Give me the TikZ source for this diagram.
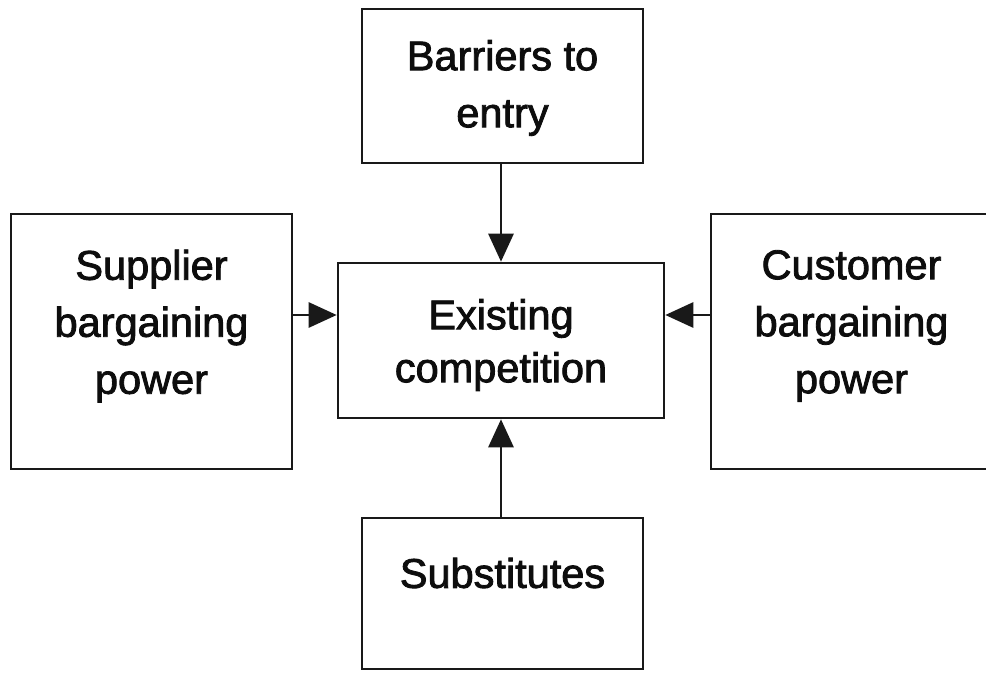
\documentclass[tikz,border=0pt]{standalone}
\usepackage{fontspec}
\setmainfont{Liberation Sans}
\newfontfamily\labelfont[FakeBold=2]{Liberation Sans}
\usetikzlibrary{arrows.meta}
\begin{document}
\begin{tikzpicture}[x=1pt,y=-1pt,
  box/.style={draw=black!90, line width=2.6pt, fill=white, inner sep=0pt},
  lbl/.style={align=center, text=black!95, inner sep=0pt,
    font=\labelfont\fontsize{41.5}{57}\selectfont},
  arr/.style={line width=2.8pt, draw=black!90,
    -{Triangle[length=28pt,width=25pt]}}]
  \useasboundingbox (0,0) rectangle (986,674);
  \clip (0,0) rectangle (986,674);
  \fill[white] (0,0) rectangle (986,674);

  % the five boxes
  \node[box, minimum width=281pt, minimum height=154pt] (bar) at (502.5,86) {};
  \node[box, minimum width=281pt, minimum height=255pt] (sup) at (151.5,341.5) {};
  \node[box, minimum width=326pt, minimum height=155pt] (cen) at (501,340.5) {};
  \node[box, minimum width=281pt, minimum height=255pt] (cus) at (851.5,341.5) {};
  \node[box, minimum width=281pt, minimum height=151pt] (sub) at (502.5,593.5) {};

  % their labels
  \node[lbl] (bart) at (502.5,88) {Barriers to\\entry};
  \node[lbl] (supt) at (151.5,326) {Supplier\\bargaining\\power};
  \node[lbl, font=\labelfont\fontsize{41.5}{53}\selectfont] (cent) at (501,345)
    {Existing\\competition};
  \node[lbl] (cust) at (851.5,326) {Customer\\bargaining\\power};
  \node[lbl] (subt) at (502.5,573) {Substitutes};

  % arrows into the centre
  \coordinate (hy) at (0,315);
  \coordinate (vx) at (501,0);
  \draw[arr] (bar.south -| vx) -- (cen.north -| vx);
  \draw[arr] (sub.north -| vx) -- (cen.south -| vx);
  \draw[arr] (sup.east |- hy) -- (cen.west |- hy);
  \draw[arr] (cus.west |- hy) -- (cen.east |- hy);
\end{tikzpicture}
\end{document}
